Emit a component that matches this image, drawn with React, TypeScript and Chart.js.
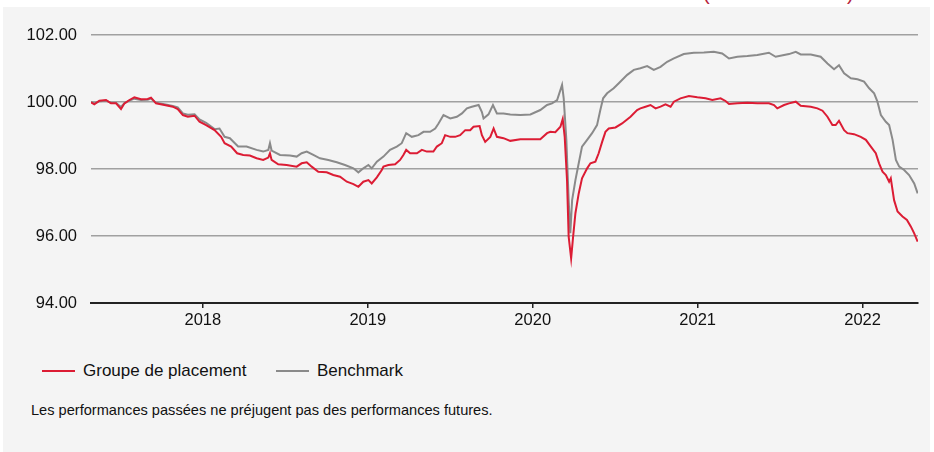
import React, { useEffect, useRef } from "react";
import { Chart, registerables } from "chart.js";

Chart.register(...registerables);

const yearTicks = [2018, 2019, 2020, 2021, 2022];
const valueTicks = [94, 96, 98, 100, 102];
const xMin = 2017.322;
const xMax = 2022.336;

const fundLabel = "Groupe de placement";
const benchLabel = "Benchmark";
const footnote = "Les performances passées ne préjugent pas des performances futures.";

// [decimal year, value]
const fundSeries: [number, number][] = [
  [2017.322, 99.99], [2017.342, 99.93], [2017.373, 100.04], [2017.413, 100.06], [2017.443, 99.96],
  [2017.474, 99.96], [2017.504, 99.79], [2017.525, 99.96], [2017.555, 100.06], [2017.585, 100.14],
  [2017.625, 100.08], [2017.666, 100.09], [2017.686, 100.13], [2017.716, 99.96], [2017.767, 99.91],
  [2017.818, 99.86], [2017.848, 99.79], [2017.879, 99.61], [2017.909, 99.56], [2017.950, 99.59],
  [2017.980, 99.41], [2018.020, 99.31], [2018.071, 99.16], [2018.111, 98.96], [2018.132, 98.77],
  [2018.172, 98.67], [2018.208, 98.47], [2018.245, 98.42], [2018.285, 98.40], [2018.326, 98.32],
  [2018.366, 98.27], [2018.397, 98.34], [2018.407, 98.47], [2018.417, 98.27], [2018.457, 98.14],
  [2018.508, 98.12], [2018.569, 98.07], [2018.599, 98.17], [2018.630, 98.20], [2018.660, 98.07],
  [2018.700, 97.92], [2018.751, 97.90], [2018.791, 97.82], [2018.832, 97.77], [2018.873, 97.62],
  [2018.913, 97.55], [2018.943, 97.47], [2018.973, 97.62], [2019.004, 97.67], [2019.024, 97.57],
  [2019.055, 97.75], [2019.085, 97.97], [2019.095, 98.07], [2019.125, 98.12], [2019.166, 98.14],
  [2019.196, 98.27], [2019.216, 98.42], [2019.233, 98.57], [2019.257, 98.47], [2019.298, 98.47],
  [2019.328, 98.57], [2019.358, 98.52], [2019.398, 98.52], [2019.419, 98.67], [2019.449, 98.77],
  [2019.469, 99.01], [2019.500, 98.96], [2019.530, 98.96], [2019.560, 99.01], [2019.591, 99.16],
  [2019.621, 99.16], [2019.641, 99.26], [2019.678, 99.28], [2019.692, 99.01], [2019.712, 98.81],
  [2019.743, 98.96], [2019.763, 99.21], [2019.783, 98.96], [2019.823, 98.92], [2019.864, 98.84],
  [2019.925, 98.89], [2019.986, 98.89], [2020.046, 98.89], [2020.087, 99.07], [2020.107, 99.11],
  [2020.137, 99.10], [2020.168, 99.26], [2020.182, 99.49], [2020.194, 98.96], [2020.208, 97.67],
  [2020.218, 95.98], [2020.233, 95.33], [2020.245, 95.98], [2020.259, 96.68], [2020.279, 97.27],
  [2020.299, 97.72], [2020.330, 98.02], [2020.350, 98.17], [2020.380, 98.22], [2020.400, 98.47],
  [2020.421, 98.81], [2020.441, 99.11], [2020.461, 99.21], [2020.502, 99.24], [2020.542, 99.36],
  [2020.593, 99.56], [2020.633, 99.76], [2020.653, 99.81], [2020.684, 99.86], [2020.714, 99.91],
  [2020.745, 99.81], [2020.775, 99.86], [2020.805, 99.93], [2020.836, 99.86], [2020.856, 100.01],
  [2020.896, 100.11], [2020.947, 100.18], [2020.998, 100.14], [2021.048, 100.11], [2021.089, 100.06],
  [2021.139, 100.11], [2021.169, 100.03], [2021.190, 99.94], [2021.241, 99.96], [2021.301, 99.98],
  [2021.362, 99.96], [2021.432, 99.96], [2021.463, 99.91], [2021.483, 99.81], [2021.524, 99.91],
  [2021.554, 99.96], [2021.595, 100.01], [2021.625, 99.89], [2021.686, 99.86], [2021.726, 99.81],
  [2021.757, 99.74], [2021.787, 99.56], [2021.817, 99.31], [2021.837, 99.31], [2021.857, 99.44],
  [2021.888, 99.16], [2021.908, 99.07], [2021.948, 99.04], [2021.989, 98.96], [2022.020, 98.87],
  [2022.050, 98.67], [2022.080, 98.47], [2022.100, 98.17], [2022.121, 97.92], [2022.141, 97.82],
  [2022.161, 97.62], [2022.171, 97.72], [2022.191, 97.07], [2022.212, 96.73], [2022.242, 96.58],
  [2022.269, 96.48], [2022.293, 96.28], [2022.313, 96.08], [2022.334, 95.83],
];

const benchSeries: [number, number][] = [
  [2017.322, 100.00], [2017.342, 99.96], [2017.373, 100.02], [2017.413, 100.04], [2017.443, 99.98],
  [2017.474, 99.97], [2017.504, 99.85], [2017.525, 99.97], [2017.555, 100.04], [2017.585, 100.10],
  [2017.625, 100.06], [2017.666, 100.07], [2017.686, 100.10], [2017.716, 99.98], [2017.767, 99.93],
  [2017.818, 99.88], [2017.848, 99.84], [2017.879, 99.66], [2017.909, 99.62], [2017.950, 99.63],
  [2017.980, 99.48], [2018.020, 99.38], [2018.071, 99.19], [2018.101, 99.21], [2018.132, 98.96],
  [2018.164, 98.92], [2018.214, 98.67], [2018.265, 98.67], [2018.326, 98.57], [2018.366, 98.52],
  [2018.397, 98.57], [2018.407, 98.77], [2018.417, 98.55], [2018.468, 98.42], [2018.528, 98.40],
  [2018.569, 98.37], [2018.599, 98.47], [2018.630, 98.52], [2018.670, 98.42], [2018.710, 98.32],
  [2018.761, 98.27], [2018.812, 98.20], [2018.862, 98.12], [2018.913, 98.02], [2018.943, 97.90],
  [2018.973, 98.02], [2019.004, 98.12], [2019.024, 98.02], [2019.055, 98.22], [2019.095, 98.37],
  [2019.135, 98.57], [2019.176, 98.67], [2019.206, 98.77], [2019.233, 99.07], [2019.267, 98.96],
  [2019.307, 99.01], [2019.338, 99.11], [2019.378, 99.11], [2019.409, 99.21], [2019.429, 99.36],
  [2019.459, 99.61], [2019.500, 99.51], [2019.540, 99.56], [2019.571, 99.66], [2019.601, 99.81],
  [2019.631, 99.86], [2019.672, 99.91], [2019.692, 99.70], [2019.702, 99.51], [2019.732, 99.63],
  [2019.759, 99.91], [2019.783, 99.66], [2019.823, 99.66], [2019.864, 99.63], [2019.925, 99.61],
  [2019.986, 99.63], [2020.046, 99.76], [2020.087, 99.91], [2020.117, 99.96], [2020.148, 100.06],
  [2020.178, 100.51], [2020.188, 100.11], [2020.204, 98.87], [2020.218, 97.07], [2020.228, 96.08],
  [2020.239, 97.07], [2020.259, 97.67], [2020.279, 98.17], [2020.299, 98.67], [2020.330, 98.87],
  [2020.360, 99.07], [2020.390, 99.31], [2020.410, 99.76], [2020.427, 100.11], [2020.451, 100.26],
  [2020.491, 100.41], [2020.522, 100.56], [2020.573, 100.81], [2020.613, 100.96], [2020.653, 101.01],
  [2020.694, 101.07], [2020.734, 100.96], [2020.775, 101.05], [2020.815, 101.20], [2020.856, 101.30],
  [2020.916, 101.43], [2020.977, 101.47], [2021.038, 101.48], [2021.098, 101.50], [2021.149, 101.45],
  [2021.190, 101.30], [2021.241, 101.35], [2021.301, 101.37], [2021.362, 101.40], [2021.432, 101.47],
  [2021.473, 101.35], [2021.524, 101.40], [2021.554, 101.43], [2021.595, 101.50], [2021.625, 101.42],
  [2021.686, 101.42], [2021.746, 101.35], [2021.787, 101.15], [2021.827, 100.98], [2021.857, 101.10],
  [2021.888, 100.86], [2021.929, 100.71], [2021.969, 100.68], [2022.009, 100.61], [2022.040, 100.41],
  [2022.070, 100.26], [2022.090, 100.01], [2022.111, 99.61], [2022.141, 99.41], [2022.161, 99.31],
  [2022.182, 98.87], [2022.202, 98.27], [2022.222, 98.07], [2022.252, 97.97], [2022.282, 97.82],
  [2022.313, 97.57], [2022.334, 97.27],
];

const RED = "#dc1c34";
const GRAY = "#8a8a8a";
const FONT = "'Liberation Sans', Arial, sans-serif";

export default function App() {
  const canvasRef = useRef<HTMLCanvasElement | null>(null);

  useEffect(() => {
    if (!canvasRef.current) return;
    const chart = new Chart(canvasRef.current, {
      type: "line",
      data: {
        datasets: [
          {
            label: fundLabel,
            data: fundSeries.map(([x, y]) => ({ x, y })),
            borderColor: RED,
            backgroundColor: RED,
            borderWidth: 2,
            pointRadius: 0,
            tension: 0,
          },
          {
            label: benchLabel,
            data: benchSeries.map(([x, y]) => ({ x, y })),
            borderColor: GRAY,
            backgroundColor: GRAY,
            borderWidth: 2,
            pointRadius: 0,
            tension: 0,
          },
        ],
      },
      options: {
        animation: false,
        responsive: false,
        maintainAspectRatio: false,
        layout: { padding: { top: 35, right: 16, left: 0, bottom: 0 } },
        plugins: { legend: { display: false }, tooltip: { enabled: false } },
        scales: {
          x: {
            type: "linear",
            min: xMin,
            max: xMax,
            afterBuildTicks: (s: any) => {
              s.ticks = yearTicks.map((v) => ({ value: v }));
            },
            afterFit: (s: any) => {
              s.height = 37;
            },
            ticks: {
              includeBounds: false,
              callback: (v: any) => String(v),
              color: "#111",
              font: { family: FONT, size: 16.5 },
              padding: 3,
              maxRotation: 0,
              autoSkip: false,
            },
            grid: {
              drawOnChartArea: false,
              drawTicks: true,
              tickLength: 5,
              color: "#222",
              lineWidth: 1.5,
            },
            border: { display: true, color: "#222", width: 2 },
          },
          y: {
            min: 94,
            max: 102,
            afterBuildTicks: (s: any) => {
              s.ticks = valueTicks.map((v) => ({ value: v }));
            },
            afterFit: (s: any) => {
              s.width = 91;
            },
            ticks: {
              callback: (v: any) => Number(v).toFixed(2),
              color: "#111",
              font: { family: FONT, size: 16.5 },
              padding: 14,
            },
            grid: {
              drawTicks: false,
              color: "#a0a0a0",
              lineWidth: 1.5,
            },
            border: { display: false },
          },
        },
      },
    });
    return () => chart.destroy();
  }, []);

  return (
    <div style={{ position: "absolute", left: 0, top: 0, width: 934, height: 452, background: "#ffffff", overflow: "hidden", fontFamily: FONT }}>
      <span style={{ position: "absolute", left: 703, top: -17, fontSize: 20, lineHeight: "20px", color: "#b8243e" }}>(</span>
      <span style={{ position: "absolute", left: 847, top: -17, fontSize: 20, lineHeight: "20px", color: "#b8243e" }}>)</span>
      <div style={{ position: "absolute", left: 3, top: 7, width: 927, height: 445, background: "#f4f4f4" }} />
      <canvas ref={canvasRef} width={934} height={340} style={{ position: "absolute", left: 0, top: 0, width: 934, height: 340 }} />
      <div style={{ position: "absolute", left: 42, top: 370, width: 33, height: 2, background: RED }} />
      <div style={{ position: "absolute", left: 83, top: 361, fontSize: 17, lineHeight: "20px", color: "#111", whiteSpace: "nowrap" }}>{fundLabel}</div>
      <div style={{ position: "absolute", left: 276, top: 370, width: 33, height: 2, background: GRAY }} />
      <div style={{ position: "absolute", left: 317, top: 361, fontSize: 17, lineHeight: "20px", color: "#111", whiteSpace: "nowrap" }}>{benchLabel}</div>
      <div style={{ position: "absolute", left: 31, top: 401, fontSize: 14.6, lineHeight: "18px", color: "#111", whiteSpace: "nowrap" }}>{footnote}</div>
    </div>
  );
}
